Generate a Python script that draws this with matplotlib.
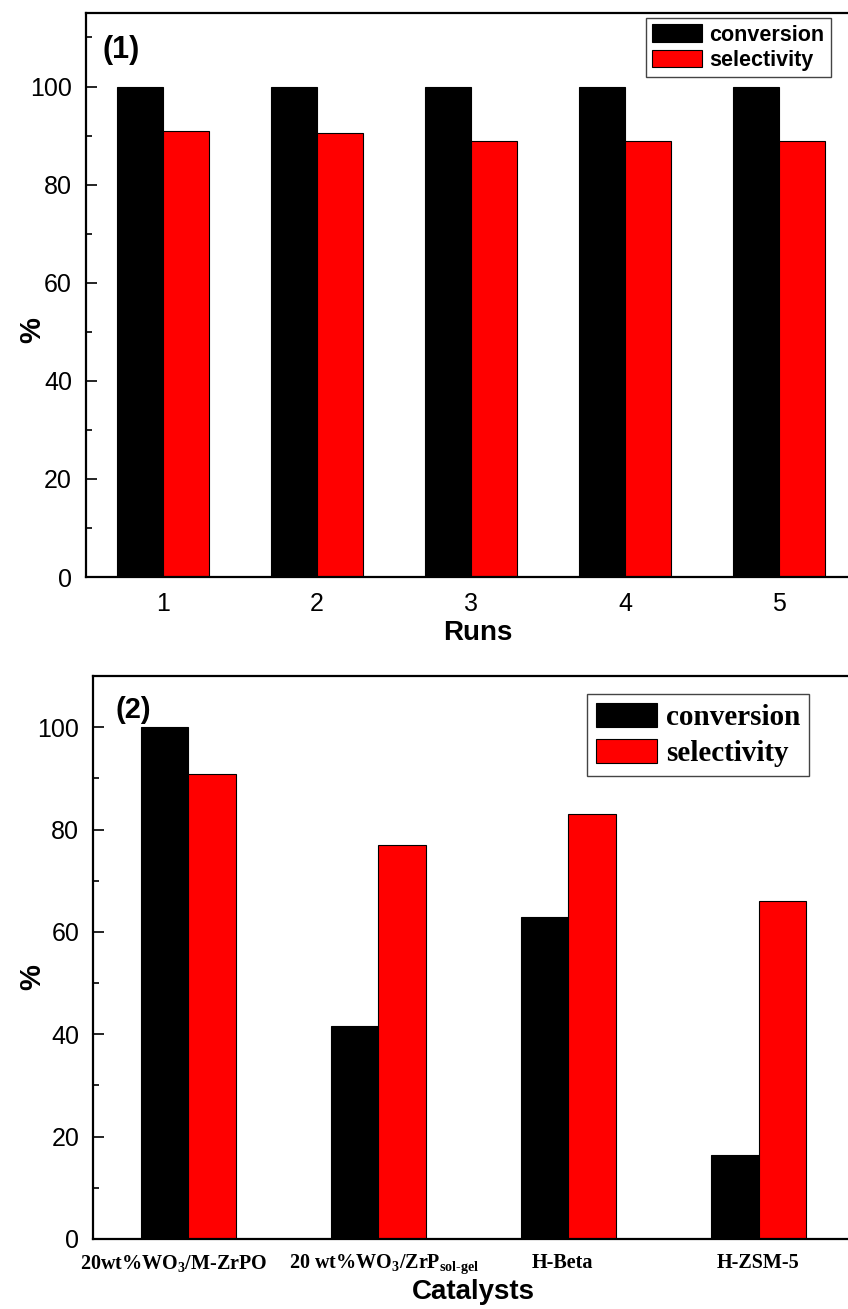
import matplotlib
matplotlib.use("Agg")
import matplotlib.pyplot as plt
import matplotlib.transforms as mtransforms
import numpy as np

# ---- data ----
runs = ["1", "2", "3", "4", "5"]
runs_conversion = [100, 100, 100, 100, 100]
runs_selectivity = [91.0, 90.5, 88.8, 88.9, 88.8]

catalysts = [
    "20wt%WO$_3$/M-ZrPO",
    "20 wt%WO$_3$/ZrP$_{\\text{sol-gel}}$",
    "H-Beta",
    "H-ZSM-5",
]
cat_conversion = [100, 41.7, 63.0, 16.5]
cat_selectivity = [90.9, 76.9, 83.1, 66.1]

series_names = ["conversion", "selectivity"]
colors = ["black", "#ff0000"]

plt.rcParams["font.family"] = ["Liberation Sans", "DejaVu Sans"]
plt.rcParams["mathtext.fontset"] = "custom"
plt.rcParams["mathtext.rm"] = "Liberation Serif:bold"
plt.rcParams["mathtext.it"] = "Liberation Serif:bold"
plt.rcParams["mathtext.bf"] = "Liberation Serif:bold"

fig = plt.figure(figsize=(8.48, 13.09), dpi=100)


def style_axes(ax, ymax):
    ax.set_ylim(0, ymax)
    ax.set_yticks(np.arange(0, 101, 20))
    ax.set_yticks(np.arange(10, ymax, 10), minor=True)
    ax.tick_params(axis="y", which="major", direction="in", length=8, width=1.2,
                   labelsize=18, pad=10)
    ax.tick_params(axis="y", which="minor", direction="in", length=4, width=1.2)
    ax.tick_params(axis="x", which="both", length=0, pad=11)
    for s in ax.spines.values():
        s.set_linewidth(1.6)
    ax.set_axisbelow(True)
    ax.set_ylabel("%", fontsize=21, fontweight="bold")


# ---- panel (1): repeated runs ----
ax1 = fig.add_axes([0.1014, 0.5592, 0.908, 0.4309])
x1 = np.arange(1, len(runs) + 1)
w1 = 0.3
ax1.bar(x1 - w1 / 2, runs_conversion, w1, color=colors[0], edgecolor="black",
        linewidth=0.8, label=series_names[0])
ax1.bar(x1 + w1 / 2, runs_selectivity, w1, color=colors[1], edgecolor="black",
        linewidth=0.8, label=series_names[1])
ax1.set_xlim(0.5, len(runs) + 0.5)
style_axes(ax1, 115)
ax1.yaxis.set_label_coords(-0.052, 0.437)
ax1.set_xticks(x1)
ax1.set_xticklabels(runs, fontsize=18)
ax1.set_xlabel("Runs", fontsize=20, fontweight="bold")
ax1.xaxis.set_label_coords(0.509, -0.077)
ax1.text(0.022, 0.935, "(1)", transform=ax1.transAxes, fontsize=22,
         fontweight="bold", va="center", ha="left")
leg1 = ax1.legend(loc="upper right", bbox_to_anchor=(0.9675, 0.991),
                  borderaxespad=0, fancybox=False, framealpha=1,
                  edgecolor="#444444",
                  prop={"family": "Liberation Sans", "weight": "bold", "size": 15.5},
                  handlelength=2.3, handleheight=0.85, labelspacing=0.2,
                  handletextpad=0.35, borderpad=0.3)
leg1.get_frame().set_linewidth(1.0)

# ---- panel (2): catalyst comparison ----
ax2 = fig.add_axes([0.1097, 0.0535, 0.897, 0.4300])
x2 = np.arange(1, len(catalysts) + 1)
w2 = 0.25
ax2.bar(x2 - w2 / 2, cat_conversion, w2, color=colors[0], edgecolor="black",
        linewidth=0.8, label=series_names[0])
ax2.bar(x2 + w2 / 2, cat_selectivity, w2, color=colors[1], edgecolor="black",
        linewidth=0.8, label=series_names[1])
ax2.set_xlim(0.5, len(catalysts) + 0.5)
style_axes(ax2, 110)
ax2.yaxis.set_label_coords(-0.062, 0.465)
ax2.set_xticks(x2)
ax2.set_xticklabels(catalysts, fontsize=14.5,
                    fontfamily="Liberation Serif", fontweight="bold")
ax2.tick_params(axis="x", pad=10)
# nudge the category labels sideways (points)
for lab, dx in zip(ax2.get_xticklabels(), [-10.5, 4.5, -4.0, -0.7]):
    lab.set_transform(lab.get_transform()
                      + mtransforms.ScaledTranslation(dx / 72, 0, fig.dpi_scale_trans))
ax2.set_xlabel("Catalysts", fontsize=20, fontweight="bold")
ax2.xaxis.set_label_coords(0.50, -0.072)
ax2.text(0.029, 0.94, "(2)", transform=ax2.transAxes, fontsize=21,
         fontweight="bold", va="center", ha="left")
leg2 = ax2.legend(loc="upper right", bbox_to_anchor=(0.941, 0.968),
                  borderaxespad=0, fancybox=False, framealpha=1,
                  edgecolor="#444444",
                  prop={"family": "Liberation Serif", "weight": "bold", "size": 21},
                  handlelength=2.1, handleheight=0.9, labelspacing=0.28,
                  handletextpad=0.3, borderpad=0.3)
leg2.get_frame().set_linewidth(1.0)

fig.savefig("out.png", dpi=100)
